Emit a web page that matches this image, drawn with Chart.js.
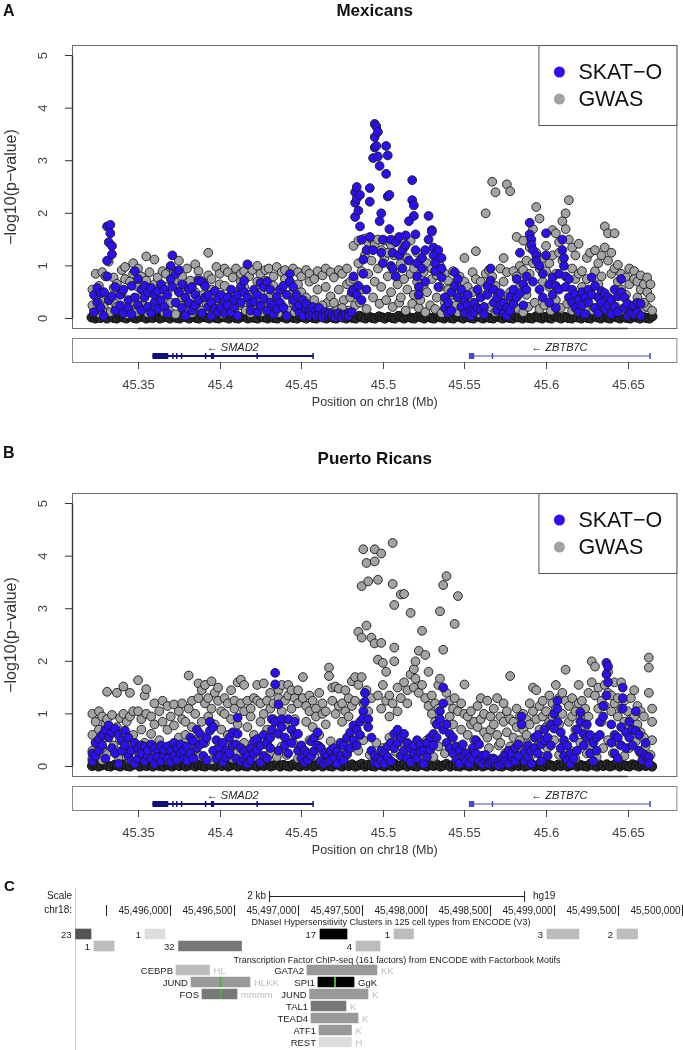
<!DOCTYPE html>
<html>
<head>
<meta charset="utf-8">
<script src="https://cdn.jsdelivr.net/npm/chart.js@4.4.0/dist/chart.umd.min.js"></script>
<style>
  body { margin: 0; background: #fff; width: 683px; height: 1050px; overflow: hidden; position: relative; }
  canvas { position: absolute; left: 0; }
  .tag { position: absolute; font-family: "Liberation Sans", Arial, sans-serif; font-weight: bold; line-height: 1; color: #111; }
</style>
</head>
<body>
<canvas id="chartA" width="683" height="420" style="top:0"></canvas>
<canvas id="chartB" width="683" height="420" style="top:448px"></canvas>
<canvas id="chartC" width="683" height="180" style="top:870px"></canvas>
<div class="tag" style="left:3px;top:3px;font-size:16px">A</div>
<div class="tag" style="left:3px;top:445px;font-size:16px">B</div>
<div class="tag" style="left:4px;top:878px;font-size:15px">C</div>
<script>
const FONT = '"Liberation Sans", Arial, Helvetica, sans-serif';
Chart.defaults.font.family = FONT;

// ---- shared axes ----
const xTicks = [45.35, 45.4, 45.45, 45.5, 45.55, 45.6, 45.65];
const yTicks = [0, 1, 2, 3, 4, 5];
const X_MIN = 45.3095, X_MAX = 45.6805;

// ---- genes (Mb) ----
const geneNames = ['SMAD2', 'ZBTB7C'];
const geneStart = [45.3588, 45.5527];
const geneEnd = [45.4572, 45.6637];
const geneExons = [
  [[45.3588, 45.3685], [45.3709, 45.3714], [45.3732, 45.3736], [45.3762, 45.3767], [45.3909, 45.3913], [45.3946, 45.3966], [45.4225, 45.4229], [45.4568, 45.4572]],
  [[45.5527, 45.5560], [45.5667, 45.5674], [45.6633, 45.6637]]
];

// ---- Mexicans: [position, -log10 p values...] ----
const mexSkatRows = [
  [45.323, 0.45, 0.12], [45.325, 0.58, 0.30], [45.327, 0.20, 0.48], [45.329, 0.50, 0.05],
  [45.331, 1.75, 1.10, 0.80], [45.332, 1.45, 0.35], [45.333, 1.78, 1.62], [45.334, 1.38, 1.22, 0.42],
  [45.336, 0.15, 0.60], [45.339, 0.25, 0.45], [45.341, 0.10, 0.55], [45.344, 0.35, 0.20],
  [45.346, 0.62, 0.08], [45.348, 0.90, 0.40], [45.350, 0.75, 0.25], [45.352, 0.55, 0.15],
  [45.354, 0.40, 0.62], [45.356, 0.22, 0.50], [45.358, 0.58, 0.10], [45.360, 0.30, 0.45],
  [45.362, 0.52, 0.18], [45.364, 0.65, 0.35], [45.366, 0.22, 0.55], [45.368, 0.45, 0.10],
  [45.370, 1.00, 0.75], [45.371, 1.20, 0.60], [45.373, 0.85, 0.30], [45.375, 0.92, 0.50],
  [45.377, 0.65, 0.20], [45.379, 0.40, 0.05], [45.381, 0.30, 0.55], [45.383, 0.60, 0.15],
  [45.385, 0.25, 0.45], [45.387, 0.72, 0.35], [45.389, 0.70, 0.10], [45.391, 0.62, 0.40],
  [45.393, 0.45, 0.22], [45.395, 0.30, 0.05], [45.397, 0.52, 0.18], [45.399, 0.38, 0.12],
  [45.401, 0.20, 0.45], [45.403, 0.10, 0.32], [45.405, 0.40, 0.25], [45.407, 0.55, 0.12],
  [45.409, 0.22, 0.35], [45.411, 0.45, 0.05], [45.413, 0.30, 0.60], [45.415, 0.72, 0.50],
  [45.417, 1.03, 0.40], [45.419, 0.28, 0.15], [45.421, 0.55, 0.32], [45.423, 0.45, 0.12],
  [45.425, 0.68, 0.25], [45.427, 0.60, 0.38], [45.429, 0.70, 0.15], [45.431, 0.55, 0.30],
  [45.433, 0.25, 0.08], [45.435, 0.42, 0.18], [45.437, 0.30, 0.55], [45.439, 0.62, 0.20],
  [45.441, 0.45, 0.05], [45.443, 0.85, 0.70], [45.445, 0.60, 0.35], [45.447, 0.45, 0.20],
  [45.449, 0.25, 0.10], [45.451, 0.35, 0.05], [45.453, 0.18, 0.28], [45.455, 0.12, 0.05],
  [45.457, 0.22, 0.08], [45.459, 0.15, 0.05], [45.461, 0.10, 0.20], [45.463, 0.08, 0.02],
  [45.465, 0.12, 0.05], [45.467, 0.06, 0.10], [45.469, 0.04, 0.08], [45.471, 0.08, 0.02],
  [45.473, 0.05, 0.10], [45.475, 0.06, 0.02], [45.477, 0.04, 0.08], [45.479, 0.10, 0.05],
  [45.481, 0.50, 0.12], [45.482, 0.80, 0.55], [45.483, 2.40, 2.20, 1.93], [45.484, 2.50, 2.28, 0.45],
  [45.485, 2.05, 0.62], [45.486, 1.75, 2.35], [45.487, 1.50, 0.35], [45.488, 1.12, 0.85],
  [45.490, 1.30, 0.55], [45.492, 2.48, 2.22, 1.55], [45.494, 3.05, 1.30], [45.495, 3.25, 3.45, 3.70],
  [45.496, 3.65, 3.28], [45.497, 3.55, 3.08], [45.498, 2.90, 1.85], [45.499, 2.00, 1.25],
  [45.500, 1.50, 1.05], [45.502, 3.28, 2.75], [45.503, 3.10, 2.32], [45.504, 2.35, 1.70],
  [45.505, 1.50, 1.00], [45.506, 0.95, 1.25], [45.508, 1.45, 0.80], [45.510, 1.55, 1.20],
  [45.512, 1.30, 0.95], [45.514, 1.58, 1.40], [45.516, 1.85, 1.10], [45.518, 2.63, 2.25],
  [45.519, 2.15, 1.95], [45.520, 1.60, 1.30], [45.521, 1.05, 0.80], [45.522, 0.60, 0.45],
  [45.524, 0.95, 1.15], [45.526, 1.30, 0.70], [45.528, 1.95, 1.50], [45.530, 1.68, 1.65],
  [45.531, 1.35, 1.20], [45.532, 1.05, 0.90], [45.534, 1.30, 0.60], [45.536, 1.15, 0.95, 0.78],
  [45.538, 0.40, 0.20], [45.540, 0.30, 0.10], [45.542, 0.50, 0.15], [45.544, 0.88, 0.62],
  [45.546, 0.75, 0.40], [45.548, 0.55, 0.22], [45.550, 0.35, 0.10], [45.552, 0.45, 0.25],
  [45.554, 0.15, 0.05], [45.556, 0.30, 0.12], [45.558, 0.55, 0.20], [45.560, 0.18, 0.40],
  [45.562, 0.22, 0.08], [45.564, 0.45, 0.62], [45.566, 0.95, 0.72], [45.568, 0.55, 0.30],
  [45.570, 0.40, 0.15], [45.572, 0.25, 0.48], [45.574, 0.10, 0.30], [45.576, 0.20, 0.05],
  [45.578, 0.42, 0.15], [45.580, 0.55, 0.28], [45.582, 0.75, 0.40], [45.584, 1.25, 0.48],
  [45.586, 0.65, 0.25], [45.588, 0.80, 0.55], [45.590, 1.82, 1.60], [45.591, 1.50, 1.40],
  [45.592, 1.30, 0.70], [45.594, 1.20, 1.10], [45.596, 1.00, 0.55], [45.598, 0.85, 0.40],
  [45.600, 1.62, 1.20], [45.602, 0.65, 0.30], [45.604, 0.78, 0.45], [45.606, 0.62, 0.20],
  [45.608, 0.85, 0.55], [45.610, 1.50, 1.30], [45.611, 1.15, 1.00], [45.612, 0.80, 0.60],
  [45.614, 0.75, 0.40], [45.616, 0.30, 0.55], [45.618, 0.20, 0.45], [45.620, 0.35, 0.12],
  [45.622, 0.50, 0.25], [45.624, 0.40, 0.08], [45.626, 0.55, 0.30], [45.628, 0.78, 0.45],
  [45.630, 0.62, 0.20], [45.632, 0.40, 0.10], [45.634, 0.30, 0.52], [45.636, 0.48, 0.18],
  [45.638, 0.25, 0.40], [45.640, 0.35, 0.08], [45.642, 0.55, 0.22], [45.644, 0.42, 0.12],
  [45.646, 0.75, 0.50], [45.648, 0.40, 0.20], [45.650, 0.28, 0.05], [45.652, 0.15, 0.10],
  [45.654, 0.08, 0.25], [45.656, 0.30, 0.12], [45.658, 0.28, 0.05]
];
const mexGwasRows = [
  [45.322, 0.25, 0.55], [45.324, 0.42, 0.85], [45.326, 0.30, 0.62], [45.328, 0.88, 0.15],
  [45.330, 0.80, 0.45], [45.332, 1.08, 0.35], [45.335, 0.78, 0.58], [45.337, 0.66, 0.22],
  [45.340, 0.92, 0.48], [45.342, 0.98, 0.75], [45.345, 0.70, 0.30], [45.347, 1.05, 0.85],
  [45.350, 0.60, 0.95], [45.352, 0.80, 0.40], [45.355, 1.18, 0.72], [45.357, 0.88, 0.50],
  [45.360, 1.12, 0.65], [45.362, 0.78, 0.35], [45.365, 0.90, 0.55], [45.367, 0.85, 0.60],
  [45.370, 0.96, 0.30], [45.372, 0.70, 0.88], [45.375, 1.10, 0.52], [45.377, 0.80, 0.40],
  [45.380, 0.95, 0.62], [45.382, 0.72, 0.28], [45.385, 1.03, 0.50], [45.387, 0.90, 0.75],
  [45.390, 0.68, 0.45], [45.393, 1.25, 0.82], [45.395, 0.75, 0.55], [45.398, 0.98, 0.35],
  [45.400, 0.85, 0.65], [45.403, 0.62, 0.95], [45.405, 0.88, 0.40], [45.408, 0.78, 0.52],
  [45.410, 0.95, 0.30], [45.413, 0.70, 0.85], [45.415, 0.90, 0.60], [45.418, 0.80, 0.45],
  [45.420, 0.92, 0.25], [45.423, 1.00, 0.70], [45.425, 0.85, 0.50], [45.428, 0.72, 0.92],
  [45.430, 0.95, 0.40], [45.433, 0.80, 0.62], [45.435, 0.98, 0.35], [45.438, 0.88, 0.55],
  [45.440, 0.92, 0.75], [45.443, 0.70, 0.45], [45.445, 0.95, 0.30], [45.448, 0.88, 0.65],
  [45.450, 0.80, 0.50], [45.453, 0.92, 0.40], [45.455, 0.85, 0.70], [45.458, 0.75, 0.35],
  [45.460, 0.90, 0.55], [45.463, 0.82, 0.25], [45.465, 0.95, 0.60], [45.468, 0.88, 0.42],
  [45.470, 0.78, 0.30], [45.473, 0.92, 0.55], [45.475, 0.85, 0.20], [45.478, 0.95, 0.65],
  [45.480, 0.70, 0.40], [45.482, 1.38, 0.75], [45.485, 1.48, 1.05], [45.487, 0.90, 0.55],
  [45.489, 1.52, 1.20], [45.491, 1.45, 0.85], [45.493, 1.52, 1.10], [45.495, 1.40, 0.70],
  [45.497, 1.50, 0.95], [45.499, 1.30, 0.60], [45.501, 1.48, 1.15], [45.503, 1.25, 0.80],
  [45.505, 1.40, 0.50], [45.507, 1.20, 0.90], [45.509, 1.50, 0.65], [45.511, 1.05, 0.40],
  [45.513, 1.35, 0.75], [45.515, 1.15, 0.55], [45.517, 1.48, 0.85], [45.519, 0.95, 0.45],
  [45.521, 1.25, 0.70], [45.523, 1.10, 0.35], [45.525, 0.88, 0.60], [45.527, 1.05, 0.50],
  [45.530, 0.95, 0.75], [45.533, 0.82, 0.40], [45.535, 1.00, 0.60], [45.538, 0.85, 0.30],
  [45.540, 0.72, 0.55], [45.543, 0.90, 0.45], [45.545, 0.65, 0.25], [45.547, 0.80, 0.50],
  [45.550, 1.15, 0.70], [45.552, 0.60, 0.35], [45.555, 0.88, 0.50], [45.557, 1.28, 0.75],
  [45.560, 0.70, 0.45], [45.563, 2.00, 0.85], [45.565, 0.92, 0.55], [45.567, 2.60, 0.80],
  [45.569, 2.40, 0.62], [45.572, 0.95, 0.40], [45.574, 1.15, 0.70], [45.576, 2.55, 0.88],
  [45.578, 2.42, 0.50], [45.580, 0.90, 0.35], [45.582, 1.55, 0.80], [45.584, 1.00, 0.60],
  [45.586, 1.48, 0.92], [45.588, 1.10, 0.45], [45.590, 1.35, 0.85], [45.592, 1.70, 1.05],
  [45.594, 2.12, 1.25], [45.596, 1.90, 0.95], [45.598, 1.15, 0.70], [45.600, 1.38, 0.90],
  [45.602, 1.05, 0.60], [45.604, 1.68, 1.20], [45.606, 1.62, 0.85], [45.608, 1.25, 1.45],
  [45.610, 1.85, 1.10], [45.612, 2.00, 1.70], [45.614, 2.25, 1.50], [45.616, 1.35, 0.95],
  [45.618, 1.20, 0.75], [45.620, 1.42, 0.85], [45.622, 0.90, 0.60], [45.625, 1.15, 0.75],
  [45.627, 1.25, 0.50], [45.630, 1.30, 0.90], [45.632, 1.05, 0.65], [45.634, 1.20, 0.80],
  [45.636, 1.75, 1.35], [45.638, 1.62, 1.10], [45.640, 1.25, 0.85], [45.642, 1.62, 0.95],
  [45.644, 1.02, 0.70], [45.646, 0.85, 0.55], [45.649, 0.78, 0.45], [45.651, 0.95, 0.65],
  [45.654, 0.90, 0.75], [45.656, 0.70, 0.40], [45.658, 0.82, 0.55], [45.660, 0.65, 0.30],
  [45.662, 0.78, 0.50], [45.664, 0.65, 0.40]
];
// low GWAS signals just above the zero line
const mexGwasLow = [
  [45.323, 0.18], [45.326, 0.10], [45.329, 0.22], [45.333, 0.12], [45.336, 0.28], [45.339, 0.15], [45.343, 0.08], [45.346, 0.20],
  [45.349, 0.12], [45.353, 0.25], [45.356, 0.10], [45.359, 0.18], [45.363, 0.22], [45.366, 0.12], [45.369, 0.15], [45.373, 0.08],
  [45.376, 0.25], [45.379, 0.18], [45.383, 0.10], [45.386, 0.22], [45.389, 0.15], [45.392, 0.28], [45.396, 0.12], [45.399, 0.20],
  [45.402, 0.08], [45.406, 0.18], [45.409, 0.12], [45.412, 0.25], [45.416, 0.15], [45.419, 0.10], [45.422, 0.20], [45.426, 0.12],
  [45.429, 0.28], [45.432, 0.18], [45.436, 0.10], [45.439, 0.22], [45.442, 0.15], [45.446, 0.12], [45.449, 0.25], [45.452, 0.18],
  [45.456, 0.10], [45.459, 0.22], [45.462, 0.15], [45.466, 0.30], [45.469, 0.12], [45.472, 0.20], [45.476, 0.35], [45.479, 0.15],
  [45.483, 0.25], [45.486, 0.30], [45.490, 0.18], [45.494, 0.40], [45.498, 0.28], [45.502, 0.35], [45.506, 0.22], [45.510, 0.30],
  [45.514, 0.15], [45.518, 0.28], [45.522, 0.20], [45.526, 0.12], [45.529, 0.25], [45.532, 0.18], [45.536, 0.10], [45.539, 0.22],
  [45.542, 0.15], [45.546, 0.12], [45.549, 0.20], [45.553, 0.15], [45.556, 0.25], [45.559, 0.10], [45.562, 0.18], [45.566, 0.22],
  [45.569, 0.12], [45.573, 0.20], [45.576, 0.15], [45.579, 0.25], [45.583, 0.18], [45.586, 0.12], [45.589, 0.22], [45.593, 0.30],
  [45.596, 0.18], [45.599, 0.25], [45.603, 0.15], [45.606, 0.35], [45.609, 0.20], [45.613, 0.28], [45.616, 0.15], [45.619, 0.22],
  [45.623, 0.12], [45.626, 0.20], [45.629, 0.15], [45.633, 0.25], [45.636, 0.18], [45.639, 0.12], [45.643, 0.22], [45.646, 0.15],
  [45.649, 0.20], [45.653, 0.12], [45.656, 0.25], [45.659, 0.18], [45.662, 0.22], [45.665, 0.15]
];
// variants with p close to 1 (the overplotted dark band on the zero line)
const mexNull = [
  [45.3215, .02], [45.3238, .00], [45.3252, .04], [45.3270, .01], [45.3296, .03], [45.3309, .00], [45.3334, .05], [45.3351, .01],
  [45.3369, .00], [45.3392, .03], [45.3410, .02], [45.3428, .00], [45.3447, .04], [45.3475, .01], [45.3490, .00], [45.3513, .03],
  [45.3531, .05], [45.3549, .00], [45.3574, .02], [45.3590, .01], [45.3616, .04], [45.3633, .00], [45.3652, .02], [45.3678, .03],
  [45.3695, .00], [45.3712, .05], [45.3736, .01], [45.3755, .00], [45.3771, .03], [45.3798, .02], [45.3814, .00], [45.3839, .04],
  [45.3857, .01], [45.3873, .00], [45.3899, .03], [45.3916, .02], [45.3937, .00], [45.3958, .05], [45.3976, .01], [45.3994, .00],
  [45.4018, .03], [45.4035, .02], [45.4057, .00], [45.4074, .04], [45.4096, .01], [45.4113, .00], [45.4135, .03], [45.4154, .05],
  [45.4172, .00], [45.4193, .02], [45.4216, .01], [45.4233, .00], [45.4255, .04], [45.4271, .02], [45.4294, .00], [45.4315, .03],
  [45.4332, .01], [45.4353, .00], [45.4377, .05], [45.4394, .02], [45.4411, .00], [45.4436, .03], [45.4452, .01], [45.4475, .00],
  [45.4493, .04], [45.4514, .02], [45.4531, .00], [45.4556, .03], [45.4573, .01], [45.4592, .00], [45.4615, .05], [45.4633, .02],
  [45.4654, .00], [45.4672, .03], [45.4697, .01], [45.4714, .00], [45.4735, .04], [45.4753, .02], [45.4776, .00], [45.4792, .03],
  [45.4815, .01], [45.4834, .00], [45.4856, .05], [45.4873, .02], [45.4894, .00], [45.4917, .03], [45.4935, .01], [45.4952, .00],
  [45.4976, .04], [45.4995, .02], [45.5013, .00], [45.5034, .03], [45.5057, .01], [45.5073, .00], [45.5096, .05], [45.5114, .02],
  [45.5131, .00], [45.5155, .03], [45.5176, .01], [45.5192, .00], [45.5215, .04], [45.5236, .02], [45.5254, .00], [45.5273, .03],
  [45.5297, .01], [45.5314, .00], [45.5336, .05], [45.5353, .02], [45.5375, .00], [45.5394, .03], [45.5416, .01], [45.5433, .00],
  [45.5455, .04], [45.5477, .02], [45.5493, .00], [45.5515, .03], [45.5538, .01], [45.5556, .00], [45.5574, .05], [45.5597, .02],
  [45.5615, .00], [45.5636, .03], [45.5655, .01], [45.5677, .00], [45.5694, .04], [45.5718, .02], [45.5735, .00], [45.5756, .03],
  [45.5774, .01], [45.5797, .00], [45.5816, .05], [45.5833, .02], [45.5857, .00], [45.5875, .03], [45.5894, .01], [45.5915, .00],
  [45.5937, .04], [45.5954, .02], [45.5976, .00], [45.5995, .03], [45.6017, .01], [45.6034, .00], [45.6056, .05], [45.6075, .02],
  [45.6093, .00], [45.6116, .03], [45.6134, .01], [45.6157, .00], [45.6175, .04], [45.6193, .02], [45.6216, .00], [45.6234, .03],
  [45.6255, .01], [45.6273, .00], [45.6296, .05], [45.6314, .02], [45.6336, .00], [45.6353, .03], [45.6377, .01], [45.6394, .00],
  [45.6415, .04], [45.6436, .02], [45.6454, .00], [45.6475, .03], [45.6494, .01], [45.6516, .00], [45.6535, .05], [45.6553, .02],
  [45.6576, .00], [45.6595, .03], [45.6614, .01], [45.6633, .00], [45.6652, .04]
];

// ---- Puerto Ricans ----
const prSkatRows = [
  [45.322, 0.25, 0.10], [45.324, 0.45, 0.20], [45.326, 0.52, 0.30], [45.328, 0.60, 0.40],
  [45.330, 0.70, 0.15], [45.332, 0.78, 0.55], [45.334, 0.65, 0.35], [45.336, 0.72, 0.25],
  [45.338, 0.60, 0.05], [45.340, 0.50, 0.30], [45.342, 0.68, 0.40], [45.344, 0.55, 0.20],
  [45.346, 0.30, 0.10], [45.348, 0.45, 0.05], [45.350, 0.35, 0.15], [45.352, 0.25, 0.40],
  [45.354, 0.38, 0.10], [45.356, 0.20, 0.30], [45.358, 0.42, 0.15], [45.360, 0.35, 0.05],
  [45.362, 0.28, 0.18], [45.364, 0.40, 0.10], [45.366, 0.22, 0.32], [45.368, 0.38, 0.15],
  [45.370, 0.30, 0.08], [45.372, 0.45, 0.20], [45.374, 0.35, 0.12], [45.376, 0.42, 0.25],
  [45.378, 0.15, 0.30], [45.380, 0.38, 0.10], [45.382, 0.55, 0.25], [45.384, 0.48, 0.15],
  [45.386, 0.70, 0.35], [45.388, 0.62, 0.42], [45.390, 0.45, 0.20], [45.392, 0.55, 0.12],
  [45.394, 0.85, 0.68], [45.396, 0.75, 0.30], [45.398, 0.50, 0.15], [45.400, 0.35, 0.20],
  [45.402, 0.45, 0.08], [45.404, 0.30, 0.18], [45.406, 0.55, 0.25], [45.408, 0.65, 0.40],
  [45.410, 0.42, 0.15], [45.411, 0.93, 0.62], [45.413, 0.35, 0.10], [45.415, 0.28, 0.15],
  [45.417, 0.20, 0.05], [45.419, 0.35, 0.12], [45.421, 0.48, 0.25], [45.423, 0.52, 0.30],
  [45.425, 0.40, 0.08], [45.427, 0.60, 0.20], [45.429, 0.45, 0.15], [45.431, 0.55, 0.35],
  [45.432, 0.90, 0.70], [45.434, 1.78, 1.56, 0.85], [45.436, 1.18, 0.62, 0.30], [45.438, 0.90, 0.75],
  [45.440, 0.55, 0.40], [45.442, 0.90, 0.25], [45.444, 0.70, 0.45], [45.446, 0.85, 0.60],
  [45.448, 0.62, 0.30], [45.450, 0.40, 0.15], [45.452, 0.30, 0.08], [45.454, 0.25, 0.12],
  [45.456, 0.48, 0.20], [45.458, 0.55, 0.30], [45.460, 0.65, 0.40], [45.462, 0.35, 0.10],
  [45.464, 0.25, 0.05], [45.466, 0.20, 0.08], [45.468, 0.12, 0.30], [45.470, 0.35, 0.15],
  [45.472, 0.28, 0.05], [45.474, 0.45, 0.20], [45.476, 0.40, 0.12], [45.478, 0.55, 0.25],
  [45.480, 0.65, 0.35], [45.482, 0.78, 0.50], [45.484, 0.70, 0.40], [45.486, 0.85, 0.60],
  [45.488, 1.05, 0.92], [45.489, 1.40, 1.23], [45.491, 0.90, 0.75], [45.493, 0.55, 0.30],
  [45.495, 0.20, 0.08], [45.497, 0.15, 0.05], [45.499, 0.30, 0.12], [45.501, 0.25, 0.05],
  [45.503, 0.38, 0.18], [45.505, 0.45, 0.10], [45.507, 0.62, 0.35], [45.509, 0.70, 0.45],
  [45.511, 0.55, 0.20], [45.513, 0.62, 0.30], [45.515, 0.45, 0.15], [45.517, 0.35, 0.08],
  [45.519, 0.25, 0.40], [45.521, 0.50, 0.15], [45.523, 0.42, 0.28], [45.525, 0.30, 0.05],
  [45.527, 0.45, 0.18], [45.529, 0.55, 0.32], [45.531, 0.62, 0.40], [45.533, 0.80, 0.55],
  [45.535, 1.05, 0.90], [45.537, 1.50, 1.20, 0.70], [45.539, 0.80, 0.45], [45.541, 0.62, 0.35],
  [45.543, 0.55, 0.25], [45.545, 0.38, 0.12], [45.547, 0.30, 0.05], [45.549, 0.42, 0.20],
  [45.551, 0.25, 0.10], [45.553, 0.18, 0.05], [45.555, 0.35, 0.15], [45.557, 0.50, 0.25],
  [45.559, 0.42, 0.10], [45.561, 0.20, 0.05], [45.563, 0.12, 0.22], [45.565, 0.10, 0.05],
  [45.567, 0.15, 0.08], [45.569, 0.05, 0.12], [45.571, 0.08, 0.02], [45.573, 0.15, 0.05],
  [45.575, 0.22, 0.10], [45.577, 0.30, 0.05], [45.579, 0.18, 0.25], [45.581, 0.10, 0.35],
  [45.583, 0.42, 0.20], [45.585, 0.95, 0.80], [45.587, 0.28, 0.10], [45.589, 0.40, 0.18],
  [45.591, 0.30, 0.05], [45.593, 0.55, 0.35], [45.595, 0.60, 0.25], [45.597, 0.42, 0.10],
  [45.599, 0.70, 0.50], [45.601, 0.55, 0.20], [45.603, 0.80, 0.40], [45.605, 1.00, 0.72],
  [45.607, 1.25, 1.10, 0.85], [45.609, 0.65, 0.35], [45.611, 0.50, 0.20], [45.613, 0.40, 0.12],
  [45.615, 0.25, 0.05], [45.617, 0.55, 0.15], [45.619, 0.70, 0.30], [45.621, 1.03, 0.85],
  [45.623, 0.62, 0.40], [45.625, 0.80, 0.55], [45.627, 0.60, 0.25], [45.629, 0.45, 0.10],
  [45.631, 0.55, 0.30], [45.633, 0.85, 0.60], [45.635, 1.15, 0.95], [45.637, 1.97, 1.75, 1.35],
  [45.638, 1.90, 1.60], [45.640, 0.80, 0.45], [45.642, 0.60, 0.25], [45.644, 0.55, 0.15],
  [45.646, 0.75, 0.40], [45.647, 1.50, 1.30, 1.10], [45.649, 0.65, 0.35], [45.651, 0.85, 0.55],
  [45.653, 0.70, 0.40], [45.655, 1.05, 0.68], [45.657, 0.60, 0.30], [45.659, 0.25, 0.12],
  [45.661, 0.45, 0.20], [45.663, 0.18, 0.05]
];
const prGwasRows = [
  [45.322, 1.00, 0.60, 0.30], [45.324, 0.85, 0.45], [45.326, 1.05, 0.70], [45.328, 0.95, 0.35],
  [45.330, 0.80, 0.55], [45.331, 1.42, 0.90], [45.334, 0.98, 0.65], [45.337, 1.40, 0.75],
  [45.339, 0.92, 0.50], [45.341, 1.52, 1.00], [45.343, 0.85, 0.40], [45.345, 1.40, 0.95],
  [45.347, 1.05, 0.60], [45.350, 1.64, 1.05], [45.352, 0.90, 0.70], [45.354, 1.35, 0.45],
  [45.355, 1.47, 1.00], [45.358, 0.95, 0.62], [45.360, 1.20, 0.80], [45.363, 1.05, 0.50],
  [45.365, 1.25, 0.85], [45.368, 1.15, 0.70], [45.370, 0.95, 0.40], [45.372, 1.18, 0.78],
  [45.375, 1.05, 0.55], [45.377, 1.20, 0.90], [45.379, 0.85, 0.60], [45.381, 1.73, 1.10],
  [45.383, 1.25, 0.75], [45.385, 1.00, 0.50], [45.387, 1.58, 1.30], [45.389, 1.45, 0.85],
  [45.391, 1.55, 1.20], [45.393, 1.30, 0.95], [45.395, 1.62, 1.10], [45.397, 1.40, 0.80],
  [45.399, 1.25, 1.50], [45.401, 1.05, 0.70], [45.403, 1.30, 1.00], [45.405, 1.20, 0.60],
  [45.407, 1.45, 0.90], [45.409, 1.25, 1.10], [45.411, 1.60, 0.80], [45.413, 1.65, 1.20],
  [45.415, 1.55, 1.05], [45.417, 1.25, 0.75], [45.419, 1.10, 0.95], [45.421, 1.30, 0.60],
  [45.423, 1.55, 1.25], [45.425, 1.20, 0.85], [45.427, 1.58, 1.00], [45.429, 1.25, 0.70],
  [45.431, 1.40, 1.10], [45.433, 1.20, 0.90], [45.436, 1.45, 1.30], [45.438, 1.55, 1.05],
  [45.440, 1.25, 0.80], [45.442, 1.55, 1.35], [45.444, 1.45, 1.10], [45.446, 1.30, 0.90],
  [45.448, 1.20, 1.45], [45.451, 1.70, 1.30], [45.453, 1.15, 0.85], [45.455, 1.35, 1.05],
  [45.457, 1.25, 0.75], [45.459, 1.10, 0.95], [45.461, 1.40, 0.60], [45.463, 1.20, 1.00],
  [45.465, 1.05, 0.80], [45.467, 1.88, 1.72], [45.469, 1.50, 1.25], [45.471, 1.52, 1.00],
  [45.473, 1.48, 1.15], [45.475, 1.20, 0.85], [45.477, 1.45, 1.05], [45.479, 1.30, 0.95],
  [45.481, 1.62, 1.15], [45.483, 1.70, 1.25], [45.485, 2.56, 1.55], [45.487, 2.45, 3.43, 1.70],
  [45.488, 4.13, 1.20], [45.490, 3.87, 2.68, 1.45], [45.491, 3.52, 1.05], [45.493, 2.45, 1.30],
  [45.495, 4.13, 3.90, 2.34], [45.497, 3.55, 2.03, 1.35], [45.499, 4.05, 2.35, 1.10], [45.500, 1.97, 1.55],
  [45.502, 1.80, 1.25], [45.504, 1.35, 0.95], [45.506, 4.25, 3.47, 1.20], [45.507, 3.07, 2.26, 2.00],
  [45.509, 1.50, 1.05], [45.511, 3.27, 1.30], [45.513, 3.28, 1.60], [45.515, 1.45, 1.20],
  [45.517, 2.92, 1.75], [45.519, 1.85, 1.50], [45.520, 2.00, 1.67], [45.522, 2.20, 1.40],
  [45.524, 2.58, 1.55], [45.526, 2.12, 1.30], [45.528, 1.80, 1.15], [45.530, 1.35, 1.00],
  [45.532, 1.20, 0.85], [45.534, 1.55, 1.10], [45.535, 2.95, 1.67], [45.537, 3.45, 2.22],
  [45.539, 3.62, 1.40], [45.541, 1.25, 0.95], [45.543, 1.10, 0.80], [45.544, 2.71, 1.30],
  [45.546, 3.24, 1.05], [45.548, 1.20, 0.70], [45.550, 1.56, 1.00], [45.552, 0.95, 0.60],
  [45.554, 1.05, 0.80], [45.556, 0.85, 0.50], [45.558, 1.15, 0.75], [45.560, 1.30, 0.90],
  [45.562, 1.00, 0.65], [45.564, 1.25, 0.55], [45.566, 0.95, 0.70], [45.568, 1.10, 0.80],
  [45.570, 1.30, 0.60], [45.572, 0.95, 0.45], [45.574, 1.20, 0.85], [45.576, 1.05, 0.65],
  [45.578, 1.72, 0.90], [45.580, 0.85, 0.55], [45.582, 1.10, 0.75], [45.584, 0.95, 0.50],
  [45.586, 1.00, 0.70], [45.588, 0.90, 0.60], [45.590, 1.20, 0.80], [45.592, 1.50, 1.05],
  [45.594, 1.45, 0.90], [45.596, 1.15, 0.70], [45.598, 1.25, 0.95], [45.600, 1.05, 0.75],
  [45.602, 1.35, 0.85], [45.604, 1.20, 0.95], [45.606, 1.55, 1.10], [45.608, 1.30, 0.80],
  [45.610, 1.40, 1.00], [45.612, 1.84, 1.25], [45.614, 1.15, 0.85], [45.616, 1.30, 0.95],
  [45.618, 1.05, 0.70], [45.620, 1.55, 1.20], [45.622, 1.25, 0.90], [45.624, 1.10, 0.75],
  [45.626, 1.40, 0.95], [45.628, 2.00, 1.60], [45.630, 1.90, 1.35], [45.632, 1.50, 1.10],
  [45.634, 1.25, 0.85], [45.636, 1.55, 1.15], [45.638, 1.80, 1.40], [45.640, 1.35, 1.05],
  [45.642, 1.60, 1.20], [45.644, 1.30, 0.95], [45.646, 1.60, 1.10], [45.648, 1.25, 0.85],
  [45.650, 1.05, 0.75], [45.652, 1.30, 0.90], [45.654, 1.45, 0.95], [45.656, 1.15, 0.80],
  [45.658, 1.05, 0.65], [45.660, 0.95, 0.55], [45.663, 2.07, 1.88, 1.40], [45.665, 1.10, 0.85, 0.50]
];
const prGwasLow = [
  [45.322, 0.15], [45.325, 0.32], [45.328, 0.12], [45.331, 0.25], [45.335, 0.40], [45.338, 0.18], [45.341, 0.30], [45.345, 0.12],
  [45.348, 0.35], [45.351, 0.22], [45.355, 0.15], [45.358, 0.38], [45.361, 0.20], [45.365, 0.28], [45.368, 0.12], [45.371, 0.35],
  [45.375, 0.22], [45.378, 0.40], [45.381, 0.15], [45.385, 0.30], [45.388, 0.20], [45.391, 0.45], [45.395, 0.12], [45.398, 0.32],
  [45.401, 0.22], [45.405, 0.40], [45.408, 0.15], [45.411, 0.28], [45.415, 0.45], [45.418, 0.20], [45.421, 0.35], [45.425, 0.15],
  [45.428, 0.42], [45.431, 0.25], [45.435, 0.18], [45.438, 0.38], [45.441, 0.22], [45.445, 0.45], [45.448, 0.15], [45.451, 0.32],
  [45.455, 0.50], [45.458, 0.20], [45.461, 0.38], [45.465, 0.25], [45.468, 0.48], [45.471, 0.15], [45.475, 0.35], [45.478, 0.22],
  [45.481, 0.45], [45.485, 0.30], [45.488, 0.50], [45.492, 0.22], [45.496, 0.45], [45.500, 0.35], [45.504, 0.55], [45.508, 0.28],
  [45.512, 0.45], [45.516, 0.20], [45.520, 0.40], [45.524, 0.30], [45.527, 0.50], [45.531, 0.18], [45.534, 0.38], [45.538, 0.25],
  [45.541, 0.45], [45.545, 0.20], [45.548, 0.35], [45.551, 0.15], [45.555, 0.30], [45.558, 0.45], [45.561, 0.20], [45.565, 0.35],
  [45.568, 0.15], [45.571, 0.40], [45.575, 0.25], [45.578, 0.38], [45.581, 0.15], [45.585, 0.30], [45.588, 0.45], [45.591, 0.22],
  [45.595, 0.40], [45.598, 0.18], [45.601, 0.35], [45.605, 0.50], [45.608, 0.22], [45.611, 0.42], [45.615, 0.30], [45.618, 0.15],
  [45.621, 0.45], [45.625, 0.25], [45.628, 0.40], [45.631, 0.18], [45.635, 0.35], [45.638, 0.50], [45.641, 0.25], [45.645, 0.42],
  [45.648, 0.20], [45.651, 0.35], [45.655, 0.48], [45.658, 0.25], [45.661, 0.38], [45.664, 0.22]
];
const prNull = [
  [45.3218, .01], [45.3236, .04], [45.3257, .00], [45.3275, .02], [45.3293, .05], [45.3314, .01], [45.3331, .00], [45.3355, .03],
  [45.3372, .02], [45.3391, .00], [45.3413, .04], [45.3432, .01], [45.3450, .00], [45.3471, .03], [45.3494, .05], [45.3510, .00],
  [45.3532, .02], [45.3553, .01], [45.3571, .04], [45.3590, .00], [45.3613, .03], [45.3631, .01], [45.3655, .00], [45.3673, .05],
  [45.3691, .02], [45.3710, .00], [45.3734, .03], [45.3752, .01], [45.3773, .04], [45.3791, .00], [45.3812, .02], [45.3833, .05],
  [45.3851, .00], [45.3870, .03], [45.3893, .01], [45.3911, .00], [45.3932, .04], [45.3950, .02], [45.3972, .00], [45.3991, .03],
  [45.4013, .01], [45.4031, .05], [45.4052, .00], [45.4070, .02], [45.4092, .04], [45.4111, .00], [45.4130, .03], [45.4153, .01],
  [45.4171, .00], [45.4192, .05], [45.4210, .02], [45.4231, .00], [45.4253, .03], [45.4270, .01], [45.4291, .04], [45.4312, .00],
  [45.4330, .02], [45.4352, .05], [45.4371, .00], [45.4390, .03], [45.4412, .01], [45.4431, .00], [45.4450, .04], [45.4473, .02],
  [45.4491, .00], [45.4510, .03], [45.4532, .01], [45.4550, .05], [45.4571, .00], [45.4590, .02], [45.4612, .04], [45.4631, .00],
  [45.4650, .03], [45.4672, .01], [45.4691, .00], [45.4710, .05], [45.4732, .02], [45.4750, .00], [45.4771, .03], [45.4790, .01],
  [45.4812, .04], [45.4831, .00], [45.4850, .02], [45.4872, .05], [45.4891, .00], [45.4910, .03], [45.4932, .01], [45.4951, .00],
  [45.4970, .04], [45.4992, .02], [45.5011, .00], [45.5030, .03], [45.5052, .01], [45.5071, .05], [45.5090, .00], [45.5112, .02],
  [45.5131, .04], [45.5150, .00], [45.5172, .03], [45.5191, .01], [45.5210, .00], [45.5232, .05], [45.5251, .02], [45.5270, .00],
  [45.5292, .03], [45.5311, .01], [45.5330, .04], [45.5352, .00], [45.5371, .02], [45.5390, .05], [45.5412, .00], [45.5431, .03],
  [45.5450, .01], [45.5472, .00], [45.5491, .04], [45.5510, .02], [45.5532, .00], [45.5551, .03], [45.5570, .01], [45.5592, .05],
  [45.5611, .00], [45.5630, .02], [45.5652, .04], [45.5671, .00], [45.5690, .03], [45.5712, .01], [45.5731, .00], [45.5750, .05],
  [45.5772, .02], [45.5791, .00], [45.5810, .03], [45.5832, .01], [45.5851, .04], [45.5870, .00], [45.5892, .02], [45.5911, .05],
  [45.5930, .00], [45.5952, .03], [45.5971, .01], [45.5990, .00], [45.6012, .04], [45.6031, .02], [45.6050, .00], [45.6072, .03],
  [45.6091, .01], [45.6110, .05], [45.6132, .00], [45.6151, .02], [45.6170, .04], [45.6192, .00], [45.6211, .03], [45.6230, .01],
  [45.6252, .00], [45.6271, .05], [45.6290, .02], [45.6312, .00], [45.6331, .03], [45.6350, .01], [45.6372, .04], [45.6391, .00],
  [45.6410, .02], [45.6432, .05], [45.6451, .00], [45.6470, .03], [45.6492, .01], [45.6511, .00], [45.6530, .04], [45.6552, .02],
  [45.6571, .00], [45.6590, .03], [45.6612, .01], [45.6631, .05], [45.6650, .00]
];

// ---- panel C: UCSC browser view (hg19 bp) ----
const rulerTicks = [45495500, 45496000, 45496500, 45497000, 45497500, 45498000, 45498500, 45499000, 45499500, 45500000];
const scaleBar = [45496766, 45498766];
const rowKeys = ['dnase1', 'dnase2', 'tfTitle', 'tf1', 'tf2', 'tf3', 'tf4', 'tf5', 'tf6', 'tf7'];
const dnaseRow = [0, 0, 0, 0, 0, 0, 1, 1, 1];
const dnaseStart = [45495254, 45495797, 45497164, 45497742, 45498937, 45499484, 45495398, 45496059, 45497445];
const dnaseEnd = [45495375, 45495953, 45497375, 45497894, 45499187, 45499645, 45495555, 45496551, 45497633];
const dnaseCells = [23, 1, 17, 1, 3, 2, 1, 32, 4];
const dnaseScore = [640, 60, 1000, 200, 200, 200, 200, 490, 200];
const tfName = ['CEBPB', 'GATA2', 'JUND', 'SPI1', 'FOS', 'JUND', 'TAL1', 'TEAD4', 'ATF1', 'REST'];
const tfRow = [3, 3, 4, 4, 5, 5, 6, 7, 8, 9];
const tfStart = [45496039, 45497062, 45496156, 45497148, 45496242, 45497083, 45497094, 45497094, 45497156, 45497156];
const tfEnd = [45496301, 45497609, 45496617, 45497430, 45496516, 45497539, 45497367, 45497461, 45497410, 45497410];
const tfScore = [200, 350, 350, 1000, 490, 350, 490, 350, 350, 60];
const tfCells = ['HL', 'KK', 'HLKK', 'GgK', 'mmmm', 'K', 'K', 'K', 'K', 'H'];
const tfMotif = [null, null, 45496387, 45497281, 45496387, null, null, null, null, null];

const toPoints = rows => rows.flatMap(([x, ...ys]) => ys.map(y => ({x, y})));
const font = (px, style) => `${style ? style + ' ' : ''}${px}px ${FONT}`;

function seg(ctx, x1, y1, x2, y2) {
  ctx.beginPath(); ctx.moveTo(x1, y1); ctx.lineTo(x2, y2); ctx.stroke();
}

const panelDecor = {
  id: 'panelDecor',
  afterDraw(chart, _args, opts) {
    const {ctx, chartArea: a, scales: {x, y}} = chart;
    ctx.save();
    ctx.textAlign = 'center';
    ctx.textBaseline = 'middle';

    // title
    ctx.fillStyle = '#111';
    ctx.font = font(17, 'bold');
    ctx.fillText(opts.title, (a.left + a.right) / 2, 11);

    // frame
    ctx.strokeStyle = '#6a6a6a';
    ctx.lineWidth = 1;
    ctx.strokeRect(a.left + 0.5, a.top + 0.5, a.right - a.left - 1, a.bottom - a.top - 1);
    ctx.strokeStyle = '#333';
    ctx.lineWidth = 1.4;
    seg(ctx, a.left + 0.5, y.getPixelForValue(0), a.left + 0.5, y.getPixelForValue(5));
    seg(ctx, x.getPixelForValue(xTicks[0]), a.bottom - 0.5, x.getPixelForValue(xTicks[xTicks.length - 1]), a.bottom - 0.5);

    // y axis ticks, rotated labels as in R
    ctx.lineWidth = 1;
    ctx.fillStyle = '#444';
    ctx.font = font(13);
    yTicks.forEach(v => {
      const py = y.getPixelForValue(v);
      seg(ctx, a.left - 7, py, a.left, py);
      ctx.save();
      ctx.translate(a.left - 29, py);
      ctx.rotate(-Math.PI / 2);
      ctx.fillText(String(v), 0, 0);
      ctx.restore();
    });
    ctx.save();
    ctx.translate(12, (a.top + a.bottom) / 2);
    ctx.rotate(-Math.PI / 2);
    ctx.fillStyle = '#333';
    ctx.font = font(16);
    ctx.fillText('\u2212log10(p\u2212value)', 0, 0);
    ctx.restore();

    // legend (the two named series)
    const lx = a.right - 139, ly = a.top, lw = 139, lh = 81;
    ctx.fillStyle = '#fff';
    ctx.fillRect(lx, ly, lw, lh);
    ctx.strokeStyle = '#555';
    ctx.strokeRect(lx + 0.5, ly + 0.5, lw - 1, lh - 1);
    chart.data.datasets.slice(0, 2).forEach((ds, i) => {
      const cy = ly + 27 + i * 27;
      ctx.fillStyle = ds.backgroundColor;
      ctx.beginPath(); ctx.arc(lx + 21, cy, 5.5, 0, Math.PI * 2); ctx.fill();
      ctx.fillStyle = '#111';
      ctx.font = font(21.5);
      ctx.textAlign = 'left';
      ctx.fillText(ds.label, lx + 40, cy + 1);
    });

    // gene track
    const gTop = a.bottom + 9, gBot = a.bottom + 33, gy = a.bottom + 27;
    ctx.strokeStyle = '#8a8a8a';
    ctx.strokeRect(a.left + 0.5, gTop + 0.5, a.right - a.left - 1, gBot - gTop);
    geneNames.forEach((name, i) => {
      const s = x.getPixelForValue(geneStart[i]), e = x.getPixelForValue(geneEnd[i]);
      const col = opts.geneColors[i];
      ctx.strokeStyle = col;
      ctx.fillStyle = col;
      ctx.lineWidth = opts.geneLine[i];
      seg(ctx, s, gy, e, gy);
      geneExons[i].forEach(([es, ee]) => {
        const p1 = x.getPixelForValue(es), p2 = x.getPixelForValue(ee);
        ctx.fillRect(p1, gy - 3, Math.max(1.5, p2 - p1), 6);
      });
      ctx.fillStyle = '#222';
      ctx.font = font(11, 'italic');
      ctx.textAlign = 'center';
      ctx.fillText('\u2190 ' + name, (s + e) / 2, a.bottom + 19);
    });

    // x axis (below the gene track)
    ctx.strokeStyle = '#444';
    ctx.lineWidth = 1;
    ctx.fillStyle = '#444';
    ctx.font = font(13);
    xTicks.forEach(v => {
      const px = Math.round(x.getPixelForValue(v)) + 0.5;
      seg(ctx, px, gBot, px, gBot + 7);
      ctx.fillText(String(v), px, a.bottom + 56);
    });
    ctx.fillStyle = '#333';
    ctx.font = font(12.5);
    ctx.fillText('Position on chr18 (Mb)', (a.left + a.right) / 2, a.bottom + 74);
    ctx.restore();
  }
};

function scatterPanel(id, title, skatRows, gwasRows, gwasLow, nullPairs) {
  const pairs = list => list.map(([x, y]) => ({x, y}));
  const gwasPts = pairs(gwasLow).concat(toPoints(gwasRows));
  const edge = '#1a1a1a';
  return new Chart(document.getElementById(id), {
    type: 'scatter',
    data: {
      datasets: [
        {label: 'SKAT\u2212O', data: toPoints(skatRows), backgroundColor: '#2b10f2', borderColor: edge, borderWidth: 0.9, pointRadius: 4.4},
        {label: 'GWAS', data: gwasPts, backgroundColor: '#a3a3a3', borderColor: edge, borderWidth: 0.9, pointRadius: 4.4},
        // heavily overplotted p~1 variants: rendered dark as the stacked outlines appear
        {label: 'GWAS p\u22481', data: pairs(nullPairs), backgroundColor: '#262626', borderColor: '#0d0d0d', borderWidth: 1, pointRadius: 4.6}
      ]
    },
    options: {
      responsive: false,
      animation: false,
      events: [],
      layout: {padding: {left: 72, right: 4, top: 45, bottom: 91}},
      scales: {
        x: {type: 'linear', min: X_MIN, max: X_MAX, display: false},
        y: {type: 'linear', min: -0.2, max: 5.2, display: false}
      },
      plugins: {
        legend: {display: false},
        tooltip: {enabled: false},
        panelDecor: {title, geneColors: ['#10107a', '#4a4ab8'], geneLine: [2, 1]}
      }
    },
    plugins: [panelDecor]
  });
}

scatterPanel('chartA', 'Mexicans', mexSkatRows, mexGwasRows, mexGwasLow, mexNull);
scatterPanel('chartB', 'Puerto Ricans', prSkatRows, prGwasRows, prGwasLow, prNull);

// ---- panel C ----
const shade = s => { const g = Math.round(235 - s / 1000 * 235); return `rgb(${g},${g},${g})`; };

const browserDecor = {
  id: 'browserDecor',
  beforeDatasetsDraw(chart) {
    const {ctx, scales: {x}} = chart;
    ctx.save();
    ctx.textBaseline = 'middle';
    ctx.fillStyle = '#222';
    ctx.lineWidth = 1;

    // pink left border of the browser image
    ctx.strokeStyle = '#f2b6c0';
    seg(ctx, 75.5, 18, 75.5, chart.height);

    // scale bar
    ctx.strokeStyle = '#222';
    ctx.font = font(10);
    ctx.textAlign = 'right';
    ctx.fillText('Scale', 72, 26);
    ctx.fillText('chr18:', 72, 40);
    const s1 = x.getPixelForValue(scaleBar[0]), s2 = x.getPixelForValue(scaleBar[1]);
    seg(ctx, s1, 26.5, s2, 26.5);
    seg(ctx, s1 + 0.5, 21, s1 + 0.5, 32);
    seg(ctx, s2 - 0.5, 21, s2 - 0.5, 32);
    ctx.fillText('2 kb', s1 - 3, 26);
    ctx.textAlign = 'left';
    ctx.fillText('hg19', s2 + 8, 26);

    // base position ruler
    ctx.textAlign = 'right';
    rulerTicks.forEach((t, i) => {
      const px = Math.round(x.getPixelForValue(t)) - 0.5;
      seg(ctx, px, 35, px, 46);
      if (i > 0) ctx.fillText(t.toLocaleString('en-US'), px - 2, 41);
    });

    // track titles
    ctx.textAlign = 'center';
    ctx.font = font(9);
    ctx.fillText('DNaseI Hypersensitivity Clusters in 125 cell types from ENCODE (V3)', 391, 53);
    const ty = chart.scales.y.getPixelForValue(2) + 3;
    ctx.fillText('Transcription Factor ChIP-seq (161 factors) from ENCODE with Factorbook Motifs', 397, ty);
    ctx.restore();
  },
  afterDatasetsDraw(chart) {
    const {ctx, scales: {x}} = chart;
    ctx.save();
    ctx.textBaseline = 'middle';
    ctx.font = font(9.5);
    chart.getDatasetMeta(0).data.forEach((el, i) => {
      const {x: ex, base, y} = el.getProps(['x', 'base', 'y'], true);
      ctx.fillStyle = '#222';
      ctx.textAlign = 'right';
      ctx.fillText(String(dnaseCells[i]), Math.min(ex, base) - 4, y + 1);
    });
    chart.getDatasetMeta(1).data.forEach((el, i) => {
      const {x: ex, base, y, height} = el.getProps(['x', 'base', 'y', 'height'], true);
      const left = Math.min(ex, base), right = Math.max(ex, base);
      ctx.fillStyle = '#222';
      ctx.textAlign = 'right';
      ctx.fillText(tfName[i], left - 3, y + 1);
      ctx.textAlign = 'left';
      ctx.fillStyle = tfScore[i] >= 900 ? '#222' : '#bdbdbd';
      ctx.fillText(tfCells[i], right + 4, y + 1);
      if (tfMotif[i] !== null) {
        const mx = x.getPixelForValue(tfMotif[i]);
        ctx.fillStyle = '#4caf3c';
        ctx.fillRect(mx - 1, y - height / 2, 2, height);
      }
    });
    ctx.restore();
  }
};

new Chart(document.getElementById('chartC'), {
  type: 'bar',
  data: {
    labels: rowKeys,
    datasets: [
      {
        label: 'DNaseI HS clusters',
        data: dnaseStart.map((s, i) => ({x: [s, dnaseEnd[i]], y: rowKeys[dnaseRow[i]]})),
        backgroundColor: dnaseScore.map(shade),
        barThickness: 10, grouped: false, borderWidth: 0
      },
      {
        label: 'TF ChIP-seq',
        data: tfStart.map((s, i) => ({x: [s, tfEnd[i]], y: rowKeys[tfRow[i]]})),
        backgroundColor: tfScore.map(shade),
        barThickness: 10, grouped: false, borderWidth: 0
      }
    ]
  },
  options: {
    indexAxis: 'y',
    responsive: false,
    animation: false,
    events: [],
    layout: {padding: {left: 0, right: 0, top: 58, bottom: 2}},
    scales: {
      x: {type: 'linear', min: 45494664, max: 45500000, display: false},
      y: {type: 'category', display: false}
    },
    plugins: {legend: {display: false}, tooltip: {enabled: false}}
  },
  plugins: [browserDecor]
});
</script>
</body>
</html>
